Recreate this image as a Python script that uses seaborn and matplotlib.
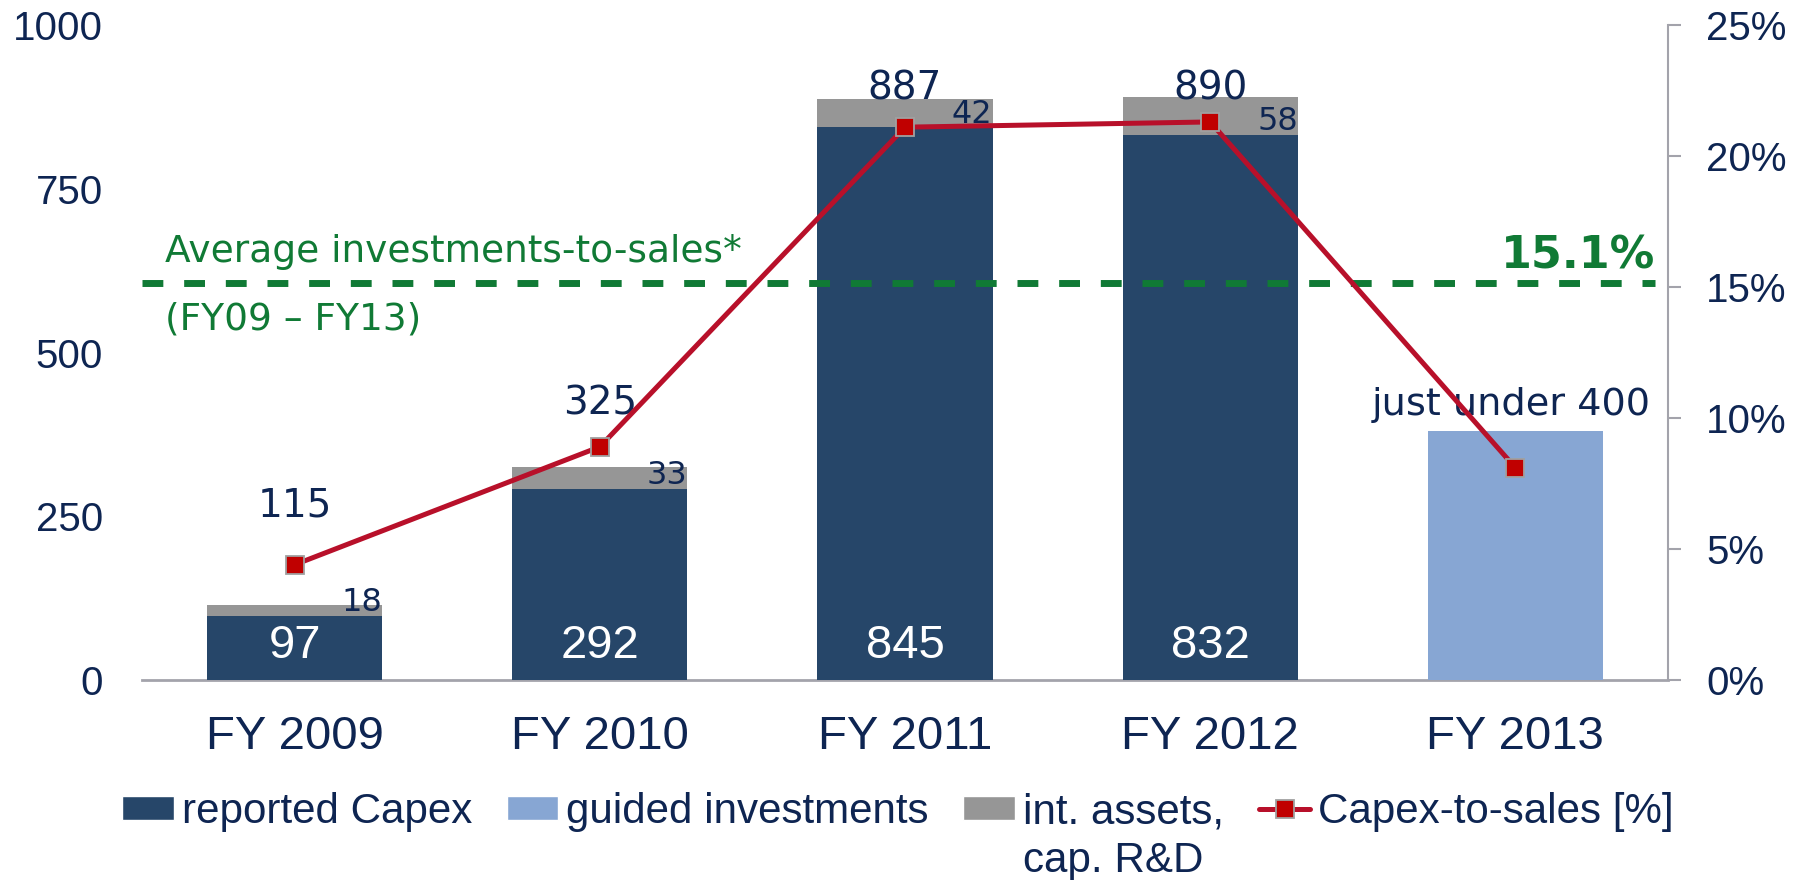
import numpy as np
import matplotlib
matplotlib.use("Agg")
import matplotlib.pyplot as plt
import seaborn as sns
from matplotlib.patches import Patch
from matplotlib.lines import Line2D

# ---------------- data ----------------
categories = ["FY 2009", "FY 2010", "FY 2011", "FY 2012", "FY 2013"]
reported_capex = [97, 292, 845, 832]
intangible_assets = [18, 33, 42, 58]
totals = [115, 325, 887, 890]
guided_investments = [380]
guided_label = "just under 400"
capex_to_sales = [4.4, 8.9, 21.1, 21.3, 8.1]
avg_ratio = 15.15
avg_label = "15.1%"
avg_text = ["Average investments-to-sales*", "(FY09 \u2013 FY13)"]
left_ticks = [0, 250, 500, 750, 1000]
right_ticks = [0, 5, 10, 15, 20, 25]
legend_labels = ["reported Capex", "guided investments", "int. assets,", "Capex-to-sales [%]"]
legend_extra = "cap. R&D"

# label baselines (data units of the left axis)
total_label_y = [250, 405, 887, 887]
inner_label_y = 34
small_label_y = [106, 300, 850, 840]
guided_label_y = 405

# ---------------- style ----------------
NAVY = "#264669"
LIGHT = "#87A6D3"
GREY = "#969696"
RED = "#B8102A"
MARK = "#C00000"
GREEN = "#107A35"
TXT = "#0E2552"
AXC = "#A3A3AB"
VERD = "DejaVu Sans"

sns.set_theme(style="white")
plt.rcParams["font.family"] = ["Liberation Sans", "DejaVu Sans"]

FW, FH = 1806, 880
fig = plt.figure(figsize=(FW / 100, FH / 100), dpi=100)
L, R, T, B = 142, 1668, 25, 680
ax = fig.add_axes([L / FW, 1 - B / FH, (R - L) / FW, (B - T) / FH])

W = 0.574
sns.barplot(x=categories[:4], y=totals, order=categories, color=GREY, width=W,
            saturation=1, linewidth=0, ax=ax, zorder=2)
sns.barplot(x=categories[:4], y=reported_capex, order=categories, color=NAVY, width=W,
            saturation=1, linewidth=0, ax=ax, zorder=3)
sns.barplot(x=categories[4:], y=guided_investments, order=categories, color=LIGHT, width=W,
            saturation=1, linewidth=0, ax=ax, zorder=3)

ax.set_xlim(-0.5, 4.5)
ax.set_ylim(0, 1000)
ax.set_xlabel("")
ax.set_ylabel("")
ax.set_yticks(left_ticks)
ax.set_yticklabels([str(t) for t in left_ticks])
ax.tick_params(axis="y", length=0, pad=28, labelsize=29, labelcolor=TXT)
ax.tick_params(axis="x", length=0, pad=25, labelsize=34, labelcolor=TXT)
for s in ["left", "top", "right"]:
    ax.spines[s].set_visible(False)
ax.spines["bottom"].set_color(AXC)
ax.spines["bottom"].set_linewidth(2)
ax.grid(False)

# value labels
for i, t in enumerate(totals):
    ax.text(i, total_label_y[i], str(t), ha="center", va="baseline", fontsize=28,
            color=TXT, family=VERD, zorder=6)
for i, v in enumerate(reported_capex):
    ax.text(i, inner_label_y, str(v), ha="center", va="baseline", fontsize=34,
            color="white", zorder=6)
for i, v in enumerate(intangible_assets):
    ax.text(i + W / 2, small_label_y[i], str(v), ha="right", va="baseline", fontsize=23,
            color=TXT, family=VERD, zorder=6)
ax.text(3.985, guided_label_y, guided_label, ha="center", va="baseline", fontsize=27.5,
        color=TXT, family=VERD, zorder=6)

# ---------------- secondary axis ----------------
ax2 = ax.twinx()
ax2.axhline(avg_ratio, xmin=0, xmax=0.9915, color=GREEN, lw=5, dashes=(3, 3), zorder=2)
sns.lineplot(x=np.arange(len(categories)), y=capex_to_sales, ax=ax2, color=RED, lw=3.6,
             marker="s", markersize=13.5, markerfacecolor=MARK, markeredgecolor="#A0A0A0",
             markeredgewidth=1.3, zorder=5)
ax2.set_xlim(-0.5, 4.5)
ax2.set_ylim(0, 25)
ax2.set_ylabel("")
ax2.set_xlabel("")
ax2.set_yticks(right_ticks)
ax2.set_yticklabels([f"{t}%" for t in right_ticks])
ax2.tick_params(axis="y", right=True, length=9.4, width=1.5, color=AXC, pad=18,
                labelsize=29, labelcolor=TXT)
for s in ["left", "top", "bottom"]:
    ax2.spines[s].set_visible(False)
ax2.spines["right"].set_color(AXC)
ax2.spines["right"].set_linewidth(1.5)
ax2.grid(False)

ax2.text(-0.425, avg_ratio + 0.8, avg_text[0], ha="left", va="baseline", fontsize=27,
         color=GREEN, family=VERD)
ax2.text(-0.425, avg_ratio - 1.78, avg_text[1], ha="left", va="baseline", fontsize=27,
         color=GREEN, family=VERD)
ax2.text(4.457, avg_ratio + 0.55, avg_label, ha="right", va="baseline", fontsize=32,
         color=GREEN, family=VERD, fontweight="bold")

# ---------------- legend ----------------
handles = [Patch(facecolor=NAVY), Patch(facecolor=LIGHT), Patch(facecolor=GREY),
           Line2D([], [], color=RED, lw=3.6, marker="s", markersize=13.5, markerfacecolor=MARK,
                  markeredgecolor="#A0A0A0", markeredgewidth=1.3)]
leg = fig.legend(handles, legend_labels, loc="center left",
                 bbox_to_anchor=(122 / FW, 1 - 812 / FH), ncol=4, frameon=False,
                 fontsize=30.3, handlelength=1.23, handleheight=0.53, handletextpad=0.19,
                 columnspacing=0.82, borderpad=0, borderaxespad=0, labelcolor=TXT)

fig.canvas.draw()
rend = fig.canvas.get_renderer()
bb = leg.get_texts()[2].get_window_extent(rend)
fig.text(bb.x0 / FW, (bb.y0 - 49) / FH, legend_extra, ha="left", va="bottom",
         fontsize=30.3, color=TXT)

fig.savefig("out.png", dpi=100)
